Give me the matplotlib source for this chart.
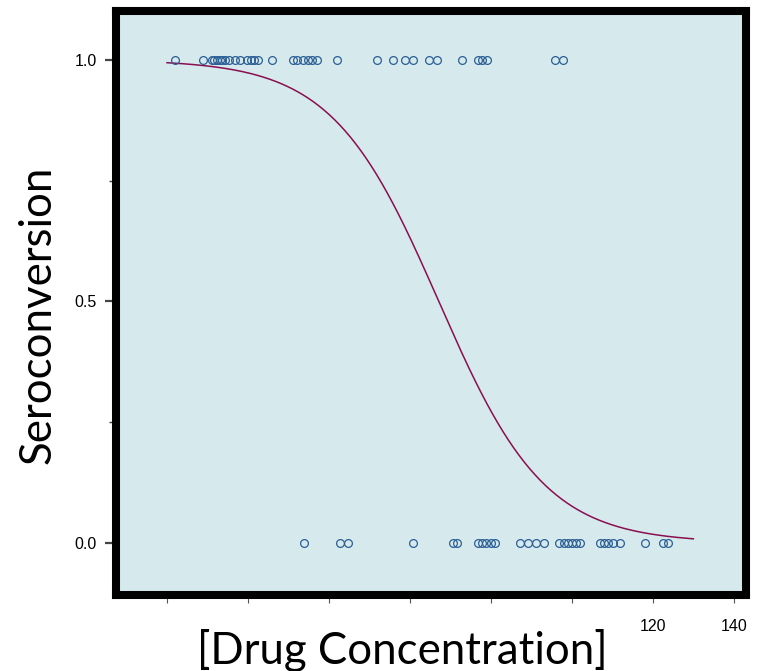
import numpy as np
import matplotlib
matplotlib.use("Agg")
import matplotlib.pyplot as plt
from matplotlib.ticker import FixedLocator, FixedFormatter

# ---- data ----
conc_seroconverted = [2.0, 8.9, 11.1, 11.7, 12.3, 13.1, 13.7, 14.4, 15.2, 16.8, 18.0,
                      19.75, 20.7, 21.6, 22.5, 25.9, 31.0, 32.1, 33.6, 34.8, 35.9, 37.0,
                      42.0, 51.9, 55.8, 58.8, 60.7, 64.7, 66.7, 72.8, 76.9, 77.9, 79.0,
                      95.9, 97.9]
conc_not_seroconverted = [33.8, 42.7, 44.7, 60.7, 70.6, 71.6, 76.8, 77.9, 78.9, 79.9,
                          81.0, 87.2, 89.1, 91.2, 93.1, 96.8, 98.0, 99.0, 100.1, 101.1,
                          102.1, 106.9, 108.0, 109.0, 110.1, 111.9, 118.0, 122.6, 123.8]
fit_intercept = 5.1
fit_slope = -0.076
fit_x_range = [0.0, 130.0]

x_ticks = [0, 20, 40, 60, 80, 100, 120, 140]
x_tick_labels = ["", "", "", "", "", "", "120", "140"]
y_ticks = [0.0, 0.5, 1.0]
y_tick_labels = ["0.0", "0.5", "1.0"]
y_minor_ticks = [0.25, 0.75]

W, H = 758, 671
fig = plt.figure(figsize=(W / 100, H / 100), dpi=100)
fig.patch.set_facecolor("white")

left, right, top, bottom = 116, 746, 11, 595
ax = fig.add_axes([left / W, 1 - bottom / H, (right - left) / W, (bottom - top) / H])
ax.set_facecolor("#d6eaee")

ax.set_xlim(-12.6, 143.0)
ax.set_ylim(-0.108, 1.101)

# fitted logistic curve
xs = np.linspace(fit_x_range[0], fit_x_range[1], 400)
ys = 1.0 / (1.0 + np.exp(-(fit_intercept + fit_slope * xs)))
ax.plot(xs, ys, color="#8a0f4f", lw=1.1, zorder=2)

# observations
ax.plot(conc_seroconverted, np.ones(len(conc_seroconverted)), linestyle="none",
        marker="o", ms=5.6, mfc="none", mec="#2b5f95", mew=0.9, zorder=3)
ax.plot(conc_not_seroconverted, np.zeros(len(conc_not_seroconverted)), linestyle="none",
        marker="o", ms=5.6, mfc="none", mec="#2b5f95", mew=0.9, zorder=3)

for s in ax.spines.values():
    s.set_linewidth(5.8)
    s.set_color("black")

tick_font = ["Liberation Sans Narrow", "Liberation Sans", "DejaVu Sans"]

ax.xaxis.set_major_locator(FixedLocator(x_ticks))
ax.xaxis.set_major_formatter(FixedFormatter(x_tick_labels))
ax.yaxis.set_major_locator(FixedLocator(y_ticks))
ax.yaxis.set_major_formatter(FixedFormatter(y_tick_labels))
ax.yaxis.set_minor_locator(FixedLocator(y_minor_ticks))

ax.tick_params(axis="x", which="major", direction="out", length=6, width=0.8,
               color="#555555", pad=11, labelsize=11.5)
ax.tick_params(axis="y", which="major", direction="out", length=8, width=1.6,
               color="#444444", pad=6, labelsize=11.5)
ax.tick_params(axis="y", which="minor", direction="out", length=5, width=1.0,
               color="#444444")
for lab in ax.get_xticklabels() + ax.get_yticklabels():
    lab.set_fontfamily(tick_font)

label_font = ["Lato", "DejaVu Sans"]
fig.text(402 / W, 1 - 650 / H, "[Drug Concentration]", ha="center", va="center",
         fontsize=31.5, family=label_font)
fig.text(38 / W, 1 - 315 / H, "Seroconversion", ha="center", va="center",
         rotation=90, fontsize=31.5, family=label_font)

fig.savefig("out.png", dpi=100)
